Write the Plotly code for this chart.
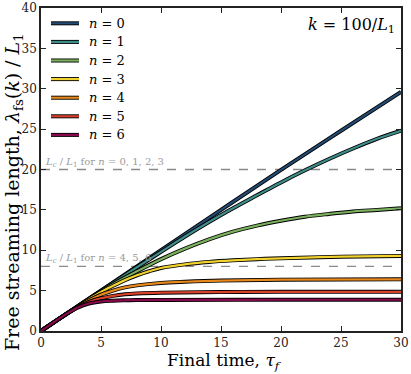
import plotly.graph_objects as go

# ---- data ----
tau_0 = [0, 5, 10, 15, 20, 25, 30]
lam_0 = [0, 5.0, 10.0, 15.0, 19.95, 24.8, 29.6]

tau_1 = [0, 2, 4, 6, 8, 10, 12, 14, 16, 18, 20, 22, 24, 26, 28, 30]
lam_1 = [0, 2, 4, 5.95, 7.9, 9.8, 11.7, 13.5, 15.2, 16.8, 18.4, 19.9, 21.3, 22.6, 23.8, 24.8]

tau_2 = [0, 2, 4, 6, 8, 10, 12, 14, 16, 18, 20, 22, 24, 26, 28, 30]
lam_2 = [0, 2, 3.97, 5.8, 7.4, 8.9, 10.2, 11.35, 12.3, 13.05, 13.65, 14.15, 14.5, 14.8, 15.0, 15.2]

tau_3 = [0, 2, 4, 5, 6, 7, 8, 9, 10, 12, 14, 16, 18, 20, 25, 30]
lam_3 = [0, 2, 3.95, 4.85, 5.6, 6.3, 6.9, 7.4, 7.8, 8.25, 8.55, 8.75, 8.9, 9.0, 9.2, 9.3]

tau_4 = [0, 2, 3, 4, 5, 6, 7, 8, 10, 12, 15, 20, 30]
lam_4 = [0, 2, 2.95, 3.8, 4.5, 5.0, 5.4, 5.65, 5.95, 6.1, 6.25, 6.35, 6.4]

tau_5 = [0, 2, 3, 4, 5, 6, 7, 8, 10, 15, 20, 30]
lam_5 = [0, 2, 2.9, 3.6, 4.05, 4.35, 4.55, 4.65, 4.75, 4.82, 4.85, 4.85]

tau_6 = [0, 2, 3, 4, 5, 6, 7, 8, 10, 20, 30]
lam_6 = [0, 2, 2.85, 3.4, 3.65, 3.75, 3.8, 3.83, 3.85, 3.87, 3.87]

series_tau = [tau_0, tau_1, tau_2, tau_3, tau_4, tau_5, tau_6]
series_lam = [lam_0, lam_1, lam_2, lam_3, lam_4, lam_5, lam_6]
series_names = ["n = 0", "n = 1", "n = 2", "n = 3", "n = 4", "n = 5", "n = 6"]
colors = ["#234a72", "#3f8c89", "#7bb05e", "#f2d22e", "#e8891e", "#d8412c", "#870a4c"]

Lc_values = [20, 8]
Lc_labels = ["<i>L<sub>c</sub></i> / <i>L</i><sub>1</sub> for <i>n</i> = 0, 1, 2, 3",
             "<i>L<sub>c</sub></i> / <i>L</i><sub>1</sub> for <i>n</i> = 4, 5, 6"]

x_ticks = [0, 5, 10, 15, 20, 25, 30]
y_ticks = [0, 5, 10, 15, 20, 25, 30, 35, 40]

FONT = "DejaVu Serif"

fig = go.Figure()

# dashed reference lines
for v in Lc_values:
    fig.add_trace(go.Scatter(x=[0, 30], y=[v, v], mode="lines",
                             line=dict(color="#8a8a8a", width=1.3, dash="dash"),
                             showlegend=False, hoverinfo="skip"))

for t, l, c, nm in zip(series_tau, series_lam, colors, series_names):
    fig.add_trace(go.Scatter(x=t, y=l, mode="lines", line=dict(color="black", width=4.0, shape="spline"),
                             showlegend=False, hoverinfo="skip"))
    fig.add_trace(go.Scatter(x=t, y=l, mode="lines", line=dict(color=c, width=2.2, shape="spline"),
                             name=nm, showlegend=False))

L, R, T, B = 41, 10, 8, 43
W, H = 411, 374
pw, ph = W - L - R, H - T - B

def px2paper(px, py):
    return (px - L) / pw, (H - B - py) / ph

shapes = []
annotations = []
# manual legend
for i, (c, nm) in enumerate(zip(colors, series_names)):
    py = 23.3 + i * 18.6
    x0, y0 = px2paper(51, py)
    x1, _ = px2paper(79, py)
    shapes.append(dict(type="line", xref="paper", yref="paper", x0=x0, x1=x1, y0=y0, y1=y0,
                       line=dict(color="black", width=4.0)))
    shapes.append(dict(type="line", xref="paper", yref="paper", x0=x0, x1=x1, y0=y0, y1=y0,
                       line=dict(color=c, width=2.2)))
    tx, _ = px2paper(87, py)
    annotations.append(dict(xref="paper", yref="paper", x=tx, y=y0, xanchor="left", yanchor="middle",
                            text="<i>n</i> = " + nm.split("= ")[1], showarrow=False,
                            font=dict(family=FONT, size=13, color="black")))

for v, lab in zip(Lc_values, Lc_labels):
    annotations.append(dict(xref="x", yref="y", x=0.2, y=v, xanchor="left", yanchor="bottom",
                            text=lab, showarrow=False, yshift=-1,
                            font=dict(family=FONT, size=10, color="#9a9a9a")))

annotations.append(dict(xref="paper", yref="paper", x=0.99, y=0.985, xanchor="right", yanchor="top",
                        text="<i>k</i> = 100/<i>L</i><sub>1</sub>", showarrow=False,
                        font=dict(family=FONT, size=16, color="black")))
annotations.append(dict(xref="paper", yref="paper", x=0, y=0.43, xshift=-28, xanchor="center", yanchor="middle",
                        textangle=-90, showarrow=False,
                        text="Free streaming length, <i>λ</i><sub>fs</sub>(<i>k</i>) / <i>L</i><sub>1</sub>",
                        font=dict(family=FONT, size=19, color="black")))
annotations.append(dict(xref="paper", yref="paper", x=0.51, y=0, yshift=-30, xanchor="center", yanchor="middle",
                        showarrow=False, text="Final time, <i>τ<sub>f</sub></i>",
                        font=dict(family=FONT, size=17, color="black")))

axis_common = dict(showline=True, linecolor="#222", linewidth=1.5, mirror="ticks", ticks="inside",
                   ticklen=5, tickwidth=1.2, tickcolor="#222", showgrid=False, zeroline=False,
                   tickfont=dict(family=FONT, size=12, color="#222"))

fig.update_layout(
    width=W, height=H, margin=dict(l=L, r=R, t=T, b=B, autoexpand=False),
    paper_bgcolor="white", plot_bgcolor="white",
    font=dict(family=FONT),
    xaxis=dict(range=[0, 30], tickvals=x_ticks, **axis_common),
    yaxis=dict(range=[0, 40], tickvals=y_ticks, **axis_common),
    shapes=shapes, annotations=annotations, showlegend=False,
)

fig.write_html("out.html", config={"displayModeBar": False},
               post_script="document.body.style.margin='0';document.body.style.padding='0';")
